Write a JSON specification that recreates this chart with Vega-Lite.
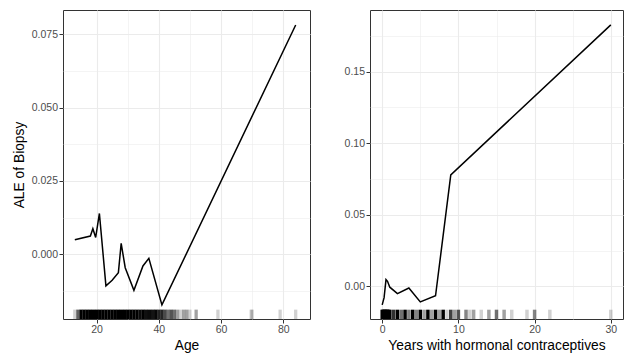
{
  "$schema": "https://vega.github.io/schema/vega-lite/v6.json",
  "background": "white",
  "padding": {"left": 11, "top": 9, "right": 0, "bottom": 0},
  "spacing": 32,
  "datasets": {
    "age_ale": [
      {"age": 13, "ale": 0.0049},
      {"age": 18, "ale": 0.0062},
      {"age": 18.8, "ale": 0.0087},
      {"age": 19.7, "ale": 0.0057},
      {"age": 20.9, "ale": 0.0139},
      {"age": 23, "ale": -0.0108},
      {"age": 25, "ale": -0.0089},
      {"age": 27, "ale": -0.0063},
      {"age": 27.9, "ale": 0.0037},
      {"age": 29.2, "ale": -0.0046},
      {"age": 32, "ale": -0.0123},
      {"age": 34.9, "ale": -0.0040},
      {"age": 36.8, "ale": -0.0014},
      {"age": 41, "ale": -0.0173},
      {"age": 84, "ale": 0.0782}
    ],
    "hc_ale": [
      {"years": 0, "ale": -0.0128},
      {"years": 0.25, "ale": -0.0078},
      {"years": 0.5, "ale": 0.0048},
      {"years": 0.7, "ale": 0.0036},
      {"years": 1, "ale": -0.0005},
      {"years": 2, "ale": -0.0050},
      {"years": 3.5, "ale": -0.0011},
      {"years": 5, "ale": -0.0108},
      {"years": 7, "ale": -0.0065},
      {"years": 9, "ale": 0.0779},
      {"years": 30, "ale": 0.1826}
    ],
    "age_rug": [
      {"age": 13, "n": 1}, {"age": 14, "n": 5}, {"age": 15, "n": 21}, {"age": 16, "n": 35},
      {"age": 17, "n": 35}, {"age": 18, "n": 50}, {"age": 19, "n": 37}, {"age": 20, "n": 37},
      {"age": 21, "n": 46}, {"age": 22, "n": 30}, {"age": 23, "n": 54}, {"age": 24, "n": 39},
      {"age": 25, "n": 38}, {"age": 26, "n": 38}, {"age": 27, "n": 39}, {"age": 28, "n": 38},
      {"age": 29, "n": 34}, {"age": 30, "n": 35}, {"age": 31, "n": 26}, {"age": 32, "n": 21},
      {"age": 33, "n": 27}, {"age": 34, "n": 17}, {"age": 35, "n": 20}, {"age": 36, "n": 16},
      {"age": 37, "n": 17}, {"age": 38, "n": 15}, {"age": 39, "n": 18}, {"age": 40, "n": 12},
      {"age": 41, "n": 12}, {"age": 42, "n": 7}, {"age": 43, "n": 4}, {"age": 44, "n": 6},
      {"age": 45, "n": 4}, {"age": 46, "n": 2}, {"age": 47, "n": 1}, {"age": 48, "n": 2},
      {"age": 49, "n": 2}, {"age": 50, "n": 1}, {"age": 52, "n": 2}, {"age": 59, "n": 1},
      {"age": 69.7, "n": 1}, {"age": 70, "n": 1}, {"age": 79, "n": 1}, {"age": 84, "n": 1}
    ],
    "hc_rug": [
      {"years": 0, "n": 270}, {"years": 0.08, "n": 3}, {"years": 0.16, "n": 3}, {"years": 0.25, "n": 40},
      {"years": 0.33, "n": 8}, {"years": 0.42, "n": 3}, {"years": 0.5, "n": 50}, {"years": 0.58, "n": 5},
      {"years": 0.66, "n": 6}, {"years": 0.75, "n": 15}, {"years": 0.92, "n": 2}, {"years": 1, "n": 70},
      {"years": 1.5, "n": 10}, {"years": 2, "n": 60}, {"years": 2.5, "n": 4}, {"years": 3, "n": 50},
      {"years": 3.5, "n": 3}, {"years": 4, "n": 40}, {"years": 4.5, "n": 3}, {"years": 5, "n": 40},
      {"years": 5.5, "n": 2}, {"years": 6, "n": 25}, {"years": 6.5, "n": 2}, {"years": 7, "n": 20},
      {"years": 7.5, "n": 2}, {"years": 8, "n": 20}, {"years": 8.5, "n": 1}, {"years": 9, "n": 8},
      {"years": 9.5, "n": 2}, {"years": 10, "n": 6}, {"years": 11, "n": 3}, {"years": 11.5, "n": 1},
      {"years": 12, "n": 2}, {"years": 13, "n": 1}, {"years": 14, "n": 2}, {"years": 15, "n": 4},
      {"years": 16, "n": 2}, {"years": 17, "n": 1}, {"years": 19, "n": 1}, {"years": 20, "n": 3},
      {"years": 22, "n": 1}, {"years": 30, "n": 1}
    ]
  },
  "hconcat": [
    {
      "width": 247,
      "height": 309,
      "layer": [
        {
          "data": {"name": "age_rug"},
          "mark": {"type": "rule", "color": "black", "strokeWidth": 3.3},
          "encoding": {
            "x": {"field": "age", "type": "quantitative"},
            "y": {"datum": -0.0221, "type": "quantitative"},
            "y2": {"datum": -0.0189},
            "opacity": {"field": "n", "type": "quantitative", "scale": {"type": "log", "domain": [1, 20], "range": [0.18, 1], "clamp": true}, "legend": null}
          }
        },
        {
          "data": {"name": "age_ale"},
          "mark": {"type": "line", "color": "black", "strokeWidth": 1.5},
          "encoding": {
            "x": {
              "field": "age", "type": "quantitative", "title": "Age",
              "scale": {"domain": [9.2, 88.6], "nice": false, "zero": false},
              "axis": {
                "grid": true,
                "values": [20, 30, 40, 50, 60, 70, 80],
                "labelExpr": "datum.value % 20 === 0 ? datum.label : ''",
                "gridWidth": {"condition": {"test": "datum.value % 20 === 0", "value": 1.1}, "value": 0.55},
                "tickOpacity": {"condition": {"test": "datum.value % 20 === 0", "value": 1}, "value": 0}
              }
            },
            "y": {
              "field": "ale", "type": "quantitative", "title": "ALE of Biopsy",
              "scale": {"domain": [-0.0221, 0.0833], "nice": false, "zero": false},
              "axis": {
                "grid": true,
                "values": [-0.0125, 0, 0.0125, 0.025, 0.0375, 0.05, 0.0625, 0.075],
                "labelExpr": "abs(datum.value/0.025 - round(datum.value/0.025)) < 0.000001 ? format(datum.value, '.3f') : ''",
                "gridWidth": {"condition": {"test": "abs(datum.value/0.025 - round(datum.value/0.025)) < 0.000001", "value": 1.1}, "value": 0.55},
                "tickOpacity": {"condition": {"test": "abs(datum.value/0.025 - round(datum.value/0.025)) < 0.000001", "value": 1}, "value": 0}
              }
            }
          }
        }
      ]
    },
    {
      "width": 253,
      "height": 309,
      "layer": [
        {
          "data": {"name": "hc_rug"},
          "mark": {"type": "rule", "color": "black", "strokeWidth": 3.5},
          "encoding": {
            "x": {"field": "years", "type": "quantitative"},
            "y": {"datum": -0.0227, "type": "quantitative"},
            "y2": {"datum": -0.0162},
            "opacity": {"field": "n", "type": "quantitative", "scale": {"type": "log", "domain": [1, 20], "range": [0.18, 1], "clamp": true}, "legend": null}
          }
        },
        {
          "data": {"name": "hc_ale"},
          "mark": {"type": "line", "color": "black", "strokeWidth": 1.5},
          "encoding": {
            "x": {
              "field": "years", "type": "quantitative", "title": "Years with hormonal contraceptives",
              "scale": {"domain": [-1.6, 31.6], "nice": false, "zero": false},
              "axis": {
                "grid": true,
                "values": [0, 5, 10, 15, 20, 25, 30],
                "labelExpr": "datum.value % 10 === 0 ? datum.label : ''",
                "gridWidth": {"condition": {"test": "datum.value % 10 === 0", "value": 1.1}, "value": 0.55},
                "tickOpacity": {"condition": {"test": "datum.value % 10 === 0", "value": 1}, "value": 0}
              }
            },
            "y": {
              "field": "ale", "type": "quantitative", "title": null,
              "scale": {"domain": [-0.0227, 0.193], "nice": false, "zero": false},
              "axis": {
                "grid": true,
                "values": [0, 0.025, 0.05, 0.075, 0.1, 0.125, 0.15, 0.175],
                "labelExpr": "abs(datum.value/0.05 - round(datum.value/0.05)) < 0.000001 ? format(datum.value, '.2f') : ''",
                "gridWidth": {"condition": {"test": "abs(datum.value/0.05 - round(datum.value/0.05)) < 0.000001", "value": 1.1}, "value": 0.55},
                "tickOpacity": {"condition": {"test": "abs(datum.value/0.05 - round(datum.value/0.05)) < 0.000001", "value": 1}, "value": 0}
              }
            }
          }
        }
      ]
    }
  ],
  "config": {
    "font": "Liberation Sans",
    "view": {"stroke": "#333333", "strokeWidth": 1},
    "axis": {
      "grid": true,
      "domain": false,
      "gridColor": "#ebebeb",
      "tickColor": "#333333",
      "tickSize": 4,
      "labelColor": "#4d4d4d",
      "labelFont": "Liberation Sans",
      "labelFontSize": 10.5,
      "labelPadding": 1.5,
      "titleFont": "Liberation Sans",
      "titleFontSize": 13.8,
      "titleFontWeight": "normal",
      "titleColor": "#000000",
      "titlePadding": 3
    },
    "axisY": {"titlePadding": 5}
  }
}
